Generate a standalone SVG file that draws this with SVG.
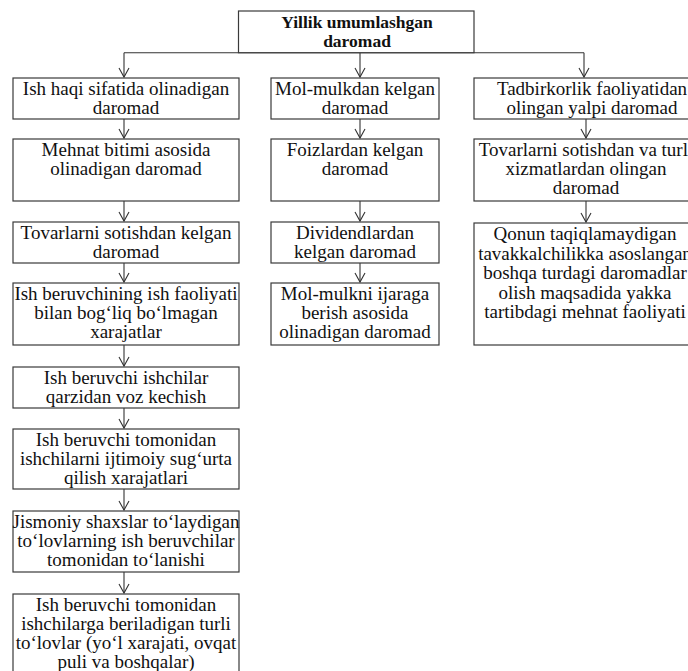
<svg xmlns="http://www.w3.org/2000/svg" width="688" height="671" viewBox="0 0 688 671">
<defs>
<style>
.box{fill:#fff;stroke:#3a3a3a;stroke-width:1.2}
.t{font-family:'Liberation Serif','Times New Roman',serif;font-size:19px;fill:#111;text-anchor:middle}
.b{font-weight:bold;font-size:17.5px}
.c{fill:none;stroke:#333;stroke-width:1.1}
</style>
<marker id="ah" markerWidth="12" markerHeight="12" refX="10" refY="6" orient="auto" markerUnits="userSpaceOnUse">
<path d="M1,1 L10,6 L1,11" fill="none" stroke="#333" stroke-width="1.1"/>
</marker>
</defs>
<rect width="688" height="671" fill="#fff"/>

<g id="connectors">
<path class="c" d="M124,52.7 H584"/>
<path class="c" d="M124,52.7 V77" marker-end="url(#ah)"/>
<path class="c" d="M360,52.7 V77" marker-end="url(#ah)"/>
<path class="c" d="M584,52.7 V77" marker-end="url(#ah)"/>
<path class="c" d="M124,119 V138" marker-end="url(#ah)"/>
<path class="c" d="M124,201 V221" marker-end="url(#ah)"/>
<path class="c" d="M124,263 V282" marker-end="url(#ah)"/>
<path class="c" d="M124,345 V366" marker-end="url(#ah)"/>
<path class="c" d="M124,408 V428" marker-end="url(#ah)"/>
<path class="c" d="M124,489 V510" marker-end="url(#ah)"/>
<path class="c" d="M124,572 V593" marker-end="url(#ah)"/>
<path class="c" d="M360,119 V138" marker-end="url(#ah)"/>
<path class="c" d="M360,201 V221" marker-end="url(#ah)"/>
<path class="c" d="M360,263 V282" marker-end="url(#ah)"/>
<path class="c" d="M586,119 V138" marker-end="url(#ah)"/>
<path class="c" d="M586,201 V222" marker-end="url(#ah)"/>
</g>

<g id="n0">
<rect class="box" x="238.5" y="11" width="235.5" height="41.7"/>
<text class="t b" font-family="Liberation Serif" x="357" y="28">Yillik umumlashgan</text>
<text class="t b" font-family="Liberation Serif" x="357" y="47">daromad</text>
</g>

<g id="L1">
<rect class="box" x="13" y="78" width="226" height="41"/>
<text class="t" font-family="Liberation Serif" x="126" y="95">Ish haqi sifatida olinadigan</text>
<text class="t" font-family="Liberation Serif" x="126" y="114">daromad</text>
</g>
<g id="L2">
<rect class="box" x="13" y="139" width="226" height="62"/>
<text class="t" font-family="Liberation Serif" x="126" y="156">Mehnat bitimi asosida</text>
<text class="t" font-family="Liberation Serif" x="126" y="175">olinadigan daromad</text>
</g>
<g id="L3">
<rect class="box" x="13" y="222" width="226" height="41"/>
<text class="t" font-family="Liberation Serif" x="126" y="239">Tovarlarni sotishdan kelgan</text>
<text class="t" font-family="Liberation Serif" x="126" y="258">daromad</text>
</g>
<g id="L4">
<rect class="box" x="13" y="283" width="226" height="62"/>
<text class="t" font-family="Liberation Serif" x="126" y="300">Ish beruvchining ish faoliyati</text>
<text class="t" font-family="Liberation Serif" x="126" y="319">bilan bog‘liq bo‘lmagan</text>
<text class="t" font-family="Liberation Serif" x="126" y="338">xarajatlar</text>
</g>
<g id="L5">
<rect class="box" x="13" y="367" width="226" height="41"/>
<text class="t" font-family="Liberation Serif" x="126" y="384">Ish beruvchi ishchilar</text>
<text class="t" font-family="Liberation Serif" x="126" y="403">qarzidan voz kechish</text>
</g>
<g id="L6">
<rect class="box" x="13" y="429" width="226" height="60"/>
<text class="t" font-family="Liberation Serif" x="126" y="446">Ish beruvchi tomonidan</text>
<text class="t" font-family="Liberation Serif" x="126" y="465">ishchilarni ijtimoiy sug‘urta</text>
<text class="t" font-family="Liberation Serif" x="126" y="484">qilish xarajatlari</text>
</g>
<g id="L7">
<rect class="box" x="13" y="511" width="226" height="61"/>
<text class="t" font-family="Liberation Serif" x="126" y="528">Jismoniy shaxslar to‘laydigan</text>
<text class="t" font-family="Liberation Serif" x="126" y="547">to‘lovlarning ish beruvchilar</text>
<text class="t" font-family="Liberation Serif" x="126" y="566">tomonidan to‘lanishi</text>
</g>
<g id="L8">
<rect class="box" x="13" y="594" width="226" height="90"/>
<text class="t" font-family="Liberation Serif" x="126" y="611">Ish beruvchi tomonidan</text>
<text class="t" font-family="Liberation Serif" x="126" y="630">ishchilarga beriladigan turli</text>
<text class="t" font-family="Liberation Serif" x="126" y="649">to‘lovlar (yo‘l xarajati, ovqat</text>
<text class="t" font-family="Liberation Serif" x="126" y="668">puli va boshqalar)</text>
</g>

<g id="M1">
<rect class="box" x="271" y="78" width="168" height="41"/>
<text class="t" font-family="Liberation Serif" x="355" y="95">Mol-mulkdan kelgan</text>
<text class="t" font-family="Liberation Serif" x="355" y="114">daromad</text>
</g>
<g id="M2">
<rect class="box" x="271" y="139" width="168" height="62"/>
<text class="t" font-family="Liberation Serif" x="355" y="156">Foizlardan kelgan</text>
<text class="t" font-family="Liberation Serif" x="355" y="175">daromad</text>
</g>
<g id="M3">
<rect class="box" x="271" y="222" width="168" height="41"/>
<text class="t" font-family="Liberation Serif" x="355" y="239">Dividendlardan</text>
<text class="t" font-family="Liberation Serif" x="355" y="258">kelgan daromad</text>
</g>
<g id="M4">
<rect class="box" x="271" y="283" width="168" height="62"/>
<text class="t" font-family="Liberation Serif" x="355" y="300">Mol-mulkni ijaraga</text>
<text class="t" font-family="Liberation Serif" x="355" y="319">berish asosida</text>
<text class="t" font-family="Liberation Serif" x="355" y="338">olinadigan daromad</text>
</g>

<g id="R1">
<rect class="box" x="474" y="78" width="230" height="41"/>
<text class="t" font-family="Liberation Serif" x="592" y="95">Tadbirkorlik faoliyatidan</text>
<text class="t" font-family="Liberation Serif" x="592" y="114">olingan yalpi daromad</text>
</g>
<g id="R2">
<rect class="box" x="474" y="139" width="230" height="62"/>
<text class="t" font-family="Liberation Serif" x="586" y="156">Tovarlarni sotishdan va turli</text>
<text class="t" font-family="Liberation Serif" x="586" y="175">xizmatlardan olingan</text>
<text class="t" font-family="Liberation Serif" x="586" y="194">daromad</text>
</g>
<g id="R3">
<rect class="box" x="474" y="223" width="230" height="122"/>
<text class="t" font-family="Liberation Serif" x="585" y="240">Qonun taqiqlamaydigan</text>
<text class="t" font-family="Liberation Serif" x="585" y="259.5">tavakkalchilikka asoslangan</text>
<text class="t" font-family="Liberation Serif" x="585" y="279">boshqa turdagi daromadlar</text>
<text class="t" font-family="Liberation Serif" x="585" y="298.5">olish maqsadida yakka</text>
<text class="t" font-family="Liberation Serif" x="585" y="318">tartibdagi mehnat faoliyati</text>
</g>
</svg>
